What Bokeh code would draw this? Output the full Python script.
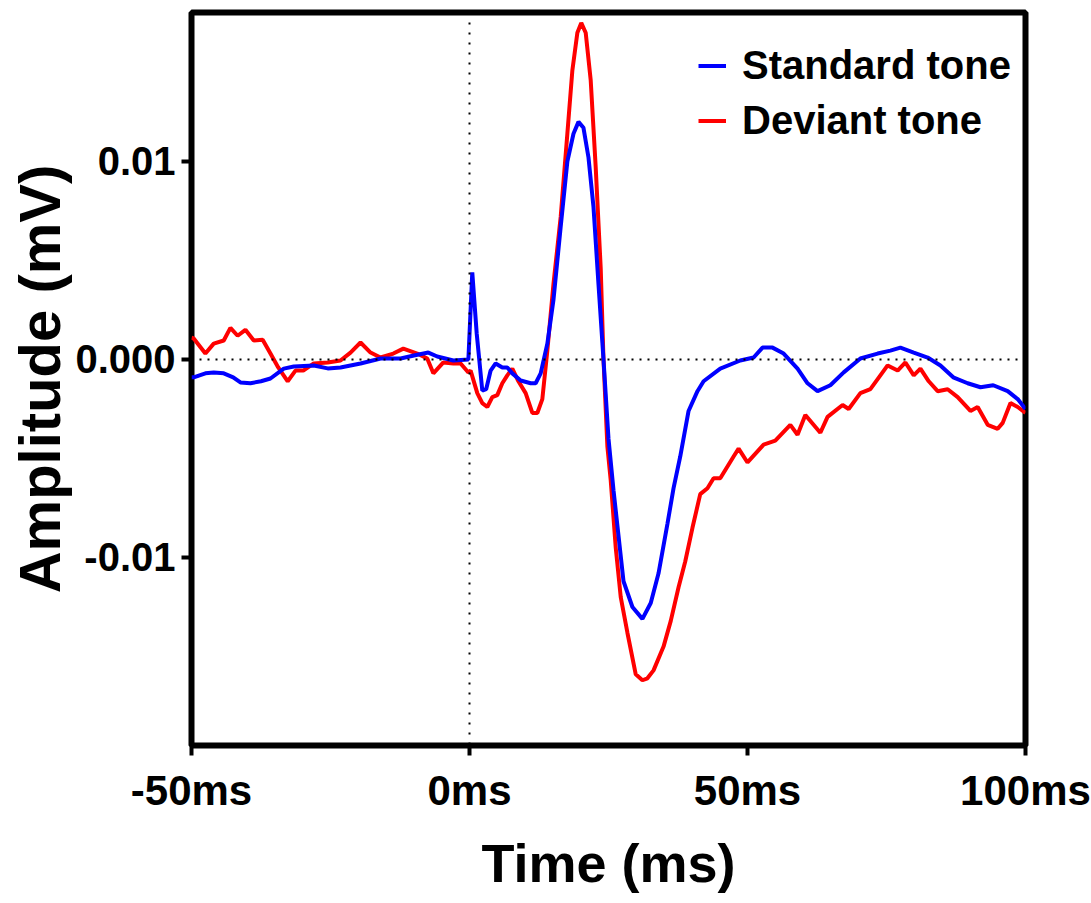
from bokeh.plotting import figure
from bokeh.models import Span, Legend, LegendItem, FixedTicker, Range1d
from bokeh.embed import file_html
from bokeh.resources import INLINE

# ---- data (time in ms, amplitude in mV) ----
std_t = [-50.0, -49.6, -47.5, -46.0, -44.2, -42.5, -41.2, -39.4, -37.5, -35.8, -33.4, -31.6,
         -28.0, -25.5, -23.2, -19.6, -16.0, -12.4, -10.0, -7.4, -5.8, -2.9, -0.2, 0.5, 1.3,
         2.3, 3.0, 3.8, 4.7, 5.9, 6.8, 7.7, 9.2, 11.0, 11.9, 12.8, 14.0, 15.1, 16.4, 17.6,
         18.7, 19.6, 20.5, 21.4, 22.3, 23.2, 24.1, 25.0, 25.9, 27.7, 29.3, 31.1, 32.6, 34.0,
         35.6, 36.7, 37.9, 39.4, 41.0, 42.1, 45.1, 48.7, 51.1, 52.7, 54.5, 56.5, 59.0, 60.8,
         62.6, 64.9, 67.3, 70.3, 73.4, 75.7, 77.5, 79.9, 82.4, 84.7, 87.0, 89.6, 91.9, 94.2,
         96.8, 98.6, 100.0]
std_v = [-0.0009, -0.0009, -0.0007, -0.00066, -0.0007, -0.0009, -0.00116, -0.0012, -0.0011,
         -0.00096, -0.00046, -0.00035, -0.0003, -0.00045, -0.0004, -0.0002, 0.00005, 0.00005,
         0.0002, 0.00035, 0.00015, -0.00005, 0.0, 0.0044, 0.0013, -0.00157, -0.0015, -0.00056,
         -0.0002, -0.0004, -0.0004, -0.0007, -0.00106, -0.0012, -0.0012, -0.0007, 0.0008,
         0.003, 0.0067, 0.0100, 0.0114, 0.0120, 0.0117, 0.0102, 0.0077, 0.0038, 0.0, -0.0040,
         -0.0066, -0.0112, -0.0125, -0.0131, -0.0123, -0.0108, -0.0083, -0.0065, -0.0049,
         -0.0026, -0.0016, -0.0011, -0.00046, -0.00005, 0.0001, 0.0006, 0.0006, 0.0003,
         -0.00046, -0.0012, -0.0016, -0.0013, -0.00065, 0.00005, 0.0003, 0.00045, 0.0006,
         0.00035, 0.0001, -0.0003, -0.0009, -0.0012, -0.0014, -0.0013, -0.0016, -0.002, -0.0025]

dev_t = [-50.0, -49.6, -47.5, -46.0, -44.2, -43.0, -41.7, -40.3, -38.8, -37.2, -35.8, -34.4,
         -32.7, -31.3, -29.9, -28.0, -25.5, -23.2, -21.4, -19.6, -17.8, -16.0, -13.7, -11.9,
         -9.4, -7.6, -6.5, -4.7, -2.9, -1.6, -0.2, 0.2, 1.4, 2.3, 3.2, 4.1, 5.0, 5.9, 6.8, 7.7,
         8.8, 10.1, 11.3, 12.2, 13.1, 14.0, 15.1, 16.4, 17.6, 18.5, 19.4, 20.1, 20.9, 21.8,
         22.7, 23.6, 24.1, 24.8, 25.4, 26.3, 27.2, 28.4, 29.9, 31.1, 32.0, 33.1, 34.9, 36.2,
         37.6, 38.8, 40.1, 41.5, 42.8, 43.9, 45.1, 47.5, 48.4, 50.0, 52.9, 55.0, 57.7, 59.0,
         60.4, 63.1, 64.4, 67.1, 68.2, 70.3, 72.1, 73.9, 75.2, 77.0, 78.4, 79.9, 81.1, 82.6,
         84.2, 86.0, 87.8, 90.1, 91.4, 93.2, 95.0, 95.9, 97.3, 98.6, 100.0]
dev_v = [0.0011, 0.00106, 0.0003, 0.0008, 0.00096, 0.0016, 0.0012, 0.0015, 0.00096, 0.001,
         0.0003, -0.0004, -0.0011, -0.00056, -0.00056, -0.0002, -0.00015, -0.00005, 0.00035,
         0.00086, 0.00035, 0.0001, 0.0003, 0.00055, 0.0003, 0.00005, -0.0007, -0.00015,
         -0.0002, -0.0002, -0.00066, -0.00056, -0.0017, -0.0022, -0.0024, -0.0019, -0.0018,
         -0.0012, -0.0008, -0.00046, -0.0011, -0.0017, -0.0027, -0.0027, -0.002, 0.00045,
         0.0038, 0.0072, 0.0114, 0.0146, 0.0165, 0.0170, 0.0165, 0.0141, 0.0097, 0.0046, 0.0,
         -0.0044, -0.0061, -0.0095, -0.012, -0.0138, -0.0159, -0.0162, -0.0161, -0.0157,
         -0.0145, -0.0132, -0.0115, -0.0102, -0.0085, -0.0068, -0.0065, -0.006, -0.006,
         -0.0049, -0.0045, -0.0052, -0.0043, -0.0041, -0.0033, -0.0038, -0.0028, -0.0037,
         -0.0029, -0.0023, -0.0025, -0.0017, -0.0015, -0.0008, -0.0003, -0.00056, -0.00015,
         -0.0008, -0.00046, -0.0011, -0.0016, -0.0015, -0.0019, -0.0026, -0.0024, -0.0033,
         -0.0035, -0.0032, -0.0022, -0.0024, -0.0027]

x_ticks = [-50, 0, 50, 100]
x_tick_labels = ["-50ms", "0ms", "50ms", "100ms"]
y_ticks = [-0.01, 0.0, 0.01]
y_tick_labels = ["-0.01", "0.000", "0.01"]
series_names = ["Standard tone", "Deviant tone"]

FONT = "Liberation Sans"

p = figure(width=1091, height=903, output_backend="svg", toolbar_location=None,
           x_range=Range1d(-50, 100), y_range=Range1d(-0.019495, 0.017525),
           min_border_left=191, min_border_right=66, min_border_top=12, min_border_bottom=158)

p.grid.visible = False
p.background_fill_color = "white"
p.border_fill_color = "white"
p.outline_line_color = "black"
p.outline_line_width = 6

p.add_layout(Span(location=0, dimension="width", line_color="black",
                  line_width=2, line_dash="2 6"))
p.add_layout(Span(location=0, dimension="height", line_color="black",
                  line_width=2, line_dash="2 8"))

r_dev = p.line(dev_t, dev_v, line_color="#ff0000", line_width=4)
r_std = p.line(std_t, std_v, line_color="#0000ff", line_width=4)

legend = Legend(items=[LegendItem(label=series_names[0], renderers=[r_std]),
                       LegendItem(label=series_names[1], renderers=[r_dev])],
                location=(507, 602), padding=0, spacing=10, margin=0,
                border_line_color=None, background_fill_alpha=0,
                glyph_width=28, glyph_height=45, label_height=45, label_standoff=16,
                label_text_font=FONT, label_text_font_style="bold",
                label_text_font_size="40px", label_text_color="black")
p.add_layout(legend)

for ax in (p.xaxis, p.yaxis):
    ax.axis_line_color = None
    ax.major_tick_line_color = "black"
    ax.major_tick_line_width = 4
    ax.major_tick_in = 0
    ax.major_tick_out = 10
    ax.minor_tick_line_color = None
    ax.major_label_text_font = FONT
    ax.major_label_text_font_style = "bold"
    ax.major_label_text_color = "black"
    ax.axis_label_text_font = FONT
    ax.axis_label_text_font_style = "bold"
    ax.axis_label_text_color = "black"

p.xaxis.ticker = FixedTicker(ticks=x_ticks)
p.xaxis.major_label_overrides = {t: l for t, l in zip(x_ticks, x_tick_labels)}
p.xaxis.major_label_text_font_size = "42px"
p.xaxis.major_label_standoff = 11
p.xaxis.axis_label = "Time (ms)"
p.xaxis.axis_label_text_font_size = "54px"
p.xaxis.axis_label_standoff = 16

p.yaxis.ticker = FixedTicker(ticks=y_ticks)
p.yaxis.major_label_overrides = {t: l for t, l in zip(y_ticks, y_tick_labels)}
p.yaxis.major_label_text_font_size = "40px"
p.yaxis.major_label_standoff = 6
p.yaxis.axis_label = "Amplitude (mV)"
p.yaxis.axis_label_text_font_size = "58px"
p.yaxis.axis_label_standoff = 0

open("out.html", "w").write(file_html(p, INLINE))
